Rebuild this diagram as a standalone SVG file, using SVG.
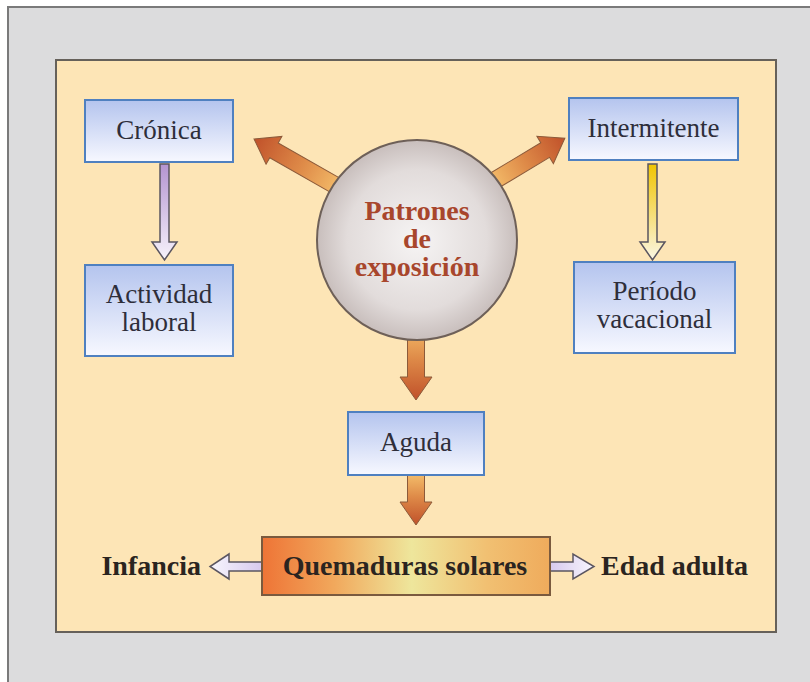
<svg xmlns="http://www.w3.org/2000/svg" width="810" height="682" viewBox="0 0 810 682">
<defs>
<linearGradient id="boxg" x1="0" y1="0" x2="0" y2="1"><stop offset="0" stop-color="#b4c4ee"/><stop offset="1" stop-color="#f7f8ff"/></linearGradient>
<radialGradient id="circg" cx="0.5" cy="0.5" r="0.5"><stop offset="0" stop-color="#f6f4f4"/><stop offset="0.7" stop-color="#e2dcdb"/><stop offset="1" stop-color="#c8bebc"/></radialGradient>
<linearGradient id="orng" x1="0" y1="0" x2="1" y2="0"><stop offset="0" stop-color="#f4bd6a"/><stop offset="0.45" stop-color="#de8a48"/><stop offset="1" stop-color="#c0512a"/></linearGradient>
<linearGradient id="qg" x1="0" y1="0" x2="1" y2="0"><stop offset="0" stop-color="#ee7436"/><stop offset="0.25" stop-color="#f1a85c"/><stop offset="0.52" stop-color="#eee69c"/><stop offset="0.78" stop-color="#f1c072"/><stop offset="1" stop-color="#efab5c"/></linearGradient>
<linearGradient id="purg" x1="0" y1="0" x2="0" y2="1"><stop offset="0" stop-color="#b494d0"/><stop offset="1" stop-color="#f6f2fb"/></linearGradient>
<linearGradient id="yelg" x1="0" y1="0" x2="0" y2="1"><stop offset="0" stop-color="#f0c400"/><stop offset="1" stop-color="#fbf6e4"/></linearGradient>
<linearGradient id="lavL" x1="1" y1="0" x2="0" y2="0"><stop offset="0" stop-color="#d6c8ee"/><stop offset="1" stop-color="#f8f6fd"/></linearGradient>
<linearGradient id="lavR" x1="0" y1="0" x2="1" y2="0"><stop offset="0" stop-color="#d6c8ee"/><stop offset="1" stop-color="#f8f6fd"/></linearGradient>
<style>
.box{fill:url(#boxg);stroke:#4f80c0;stroke-width:2}
text{font-family:'Liberation Serif','Times New Roman','DejaVu Serif',serif}
.t{font-size:27px;fill:#2e2e3a;text-anchor:middle}
.b{font-size:28px;font-weight:bold;fill:#2a2420}
.c{font-size:28px;font-weight:bold;fill:#a8462c;text-anchor:middle}
.oa{fill:url(#orng);stroke:#8c5a3a;stroke-width:1}
.la{stroke:#5a5560;stroke-width:1.5}
</style>
</defs>
<rect x="8" y="7" width="812" height="690" fill="#dcdcdd" stroke="#7a7a7a" stroke-width="2"/>
<rect x="56" y="60" width="720" height="572" fill="#fde5b6" stroke="#66615a" stroke-width="2"/>
<g id="connectors">
<polygon class="oa" transform="translate(340,188) rotate(209.7)" points="0,-8.5 76,-8.5 76,-16 99,0 76,16 76,8.5 0,8.5"/>
<polygon class="oa" transform="translate(492,182) rotate(-31)" points="0,-8.5 62,-8.5 62,-16 85,0 62,16 62,8.5 0,8.5"/>
<polygon class="oa" transform="translate(416,325) rotate(90)" points="0,-8.5 52,-8.5 52,-16 75,0 52,16 52,8.5 0,8.5"/>
<polygon class="oa" transform="translate(416,474) rotate(90)" points="0,-8.5 28,-8.5 28,-16 51,0 28,16 28,8.5 0,8.5"/>
<polygon class="la" fill="url(#purg)" points="160,164 169,164 169,242 177,242 164.5,260 152,242 160,242"/>
<polygon class="la" fill="url(#yelg)" points="648,164 657,164 657,242 665,242 652.5,260 640,242 648,242"/>
<polygon class="la" fill="url(#lavL)" points="263,562 229,562 229,554 210,566.5 229,579 229,571 263,571"/>
<polygon class="la" fill="url(#lavR)" points="549,562 573,562 573,554 594,566.5 573,579 573,571 549,571"/>
</g>
<g id="patrones">
<circle cx="417" cy="240" r="100" fill="url(#circg)" stroke="#6e6058" stroke-width="2"/>
<text x="417" y="220" class="c">Patrones</text>
<text x="417" y="248" class="c">de</text>
<text x="417" y="276" class="c">exposición</text>
</g>
<g id="cronica"><rect class="box" x="85" y="100" width="148" height="62"/><text class="t" x="159" y="139">Crónica</text></g>
<g id="actividad"><rect class="box" x="85" y="265" width="148" height="91"/><text class="t" x="159" y="303">Actividad</text><text class="t" x="159" y="331">laboral</text></g>
<g id="intermitente"><rect class="box" x="569" y="98" width="169" height="62"/><text class="t" x="653.5" y="137">Intermitente</text></g>
<g id="periodo"><rect class="box" x="574" y="262" width="161" height="91"/><text class="t" x="654.5" y="300">Período</text><text class="t" x="654.5" y="328">vacacional</text></g>
<g id="aguda"><rect class="box" x="348" y="412" width="136" height="63"/><text class="t" x="416" y="451">Aguda</text></g>
<g id="quemaduras"><rect x="262" y="537" width="288" height="58" fill="url(#qg)" stroke="#7a5a3e" stroke-width="2"/><text class="b" x="405" y="575" text-anchor="middle">Quemaduras solares</text></g>
<g id="infancia"><text class="b" x="201" y="575" text-anchor="end">Infancia</text></g>
<g id="edad"><text class="b" x="601" y="575">Edad adulta</text></g>
</svg>
